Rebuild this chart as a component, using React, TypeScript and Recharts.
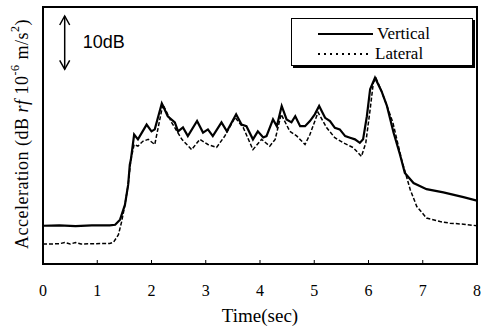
import React from "react";
import {
  LineChart,
  Line,
  XAxis,
  YAxis,
  Legend,
  Label,
  ReferenceArea,
  ReferenceLine,
} from "recharts";

// time (sec) and level (axis units, 1 unit per tick)
const verticalTime = [
  0, 0.3, 0.6, 0.9, 1.23, 1.33, 1.42, 1.51, 1.57, 1.6, 1.62, 1.68, 1.75, 1.91,
  2.0, 2.06, 2.19, 2.3, 2.43, 2.49, 2.58, 2.67, 2.84, 2.95, 3.04, 3.13, 3.29,
  3.39, 3.56, 3.66, 3.75, 3.87, 3.96, 4.06, 4.12, 4.24, 4.31, 4.4, 4.49, 4.58,
  4.65, 4.74, 4.83, 4.92, 5.01, 5.09, 5.2, 5.29, 5.38, 5.47, 5.57, 5.66, 5.75,
  5.84, 5.9, 5.97, 6.03, 6.12, 6.24, 6.34, 6.46, 6.58, 6.67, 6.83, 7.07, 7.38,
  7.75, 8.0,
];
const verticalLevel = [
  1.19, 1.2, 1.18, 1.2, 1.2, 1.22, 1.38, 1.84, 2.47, 3.09, 3.25, 4.03, 3.88,
  4.34, 4.13, 4.19, 5.0, 4.6, 4.41, 4.13, 4.25, 3.98, 4.45, 4.09, 4.19, 3.98,
  4.41, 4.13, 4.66, 4.34, 4.29, 3.88, 4.13, 3.94, 3.98, 4.5, 4.29, 4.92, 4.5,
  4.41, 4.6, 4.29, 4.29, 4.45, 4.66, 4.92, 4.55, 4.45, 4.24, 4.19, 3.98, 3.93,
  3.88, 3.77, 3.88, 4.6, 5.44, 5.8, 5.38, 4.92, 4.1, 3.41, 2.83, 2.52, 2.33,
  2.23, 2.08, 1.97,
];

const lateralTime = [
  0, 0.3, 0.4, 0.5, 0.6, 0.7, 0.9, 1.23, 1.3, 1.39, 1.45, 1.51, 1.57, 1.62,
  1.68, 1.75, 1.84, 1.94, 2.06, 2.21, 2.37, 2.56, 2.74, 2.89, 3.04, 3.2, 3.35,
  3.54, 3.69, 3.87, 4.03, 4.18, 4.28, 4.39, 4.55, 4.68, 4.83, 4.92, 5.07, 5.23,
  5.38, 5.54, 5.72, 5.87, 5.95, 6.03, 6.09, 6.14, 6.24, 6.34, 6.45, 6.61, 6.77,
  6.89, 7.07, 7.32, 7.5, 7.75, 8.0,
];
const lateralLevel = [
  0.62, 0.63, 0.67, 0.62, 0.67, 0.62, 0.63, 0.64, 0.68, 0.91, 1.32, 1.84, 2.47,
  3.25, 3.72, 3.67, 3.82, 3.88, 3.72, 4.97, 4.41, 3.88, 3.56, 3.88, 3.72, 3.63,
  3.98, 4.56, 4.25, 3.56, 3.88, 3.67, 3.88, 4.66, 4.13, 3.98, 3.72, 4.03, 4.72,
  4.24, 3.93, 3.77, 3.62, 3.35, 3.77, 4.81, 5.65, 5.78, 5.38, 4.92, 4.4, 3.25,
  2.31, 1.79, 1.43, 1.32, 1.27, 1.24, 1.19,
];

const xTicks = [0, 1, 2, 3, 4, 5, 6, 7, 8];
const yTicks = [0, 1, 2, 3, 4, 5, 6, 7, 8];

const verticalData = verticalTime.map((t, i) => ({ t, v: verticalLevel[i] }));
const lateralData = lateralTime.map((t, i) => ({ t, v: lateralLevel[i] }));

const serif = "'Liberation Serif', 'Times New Roman', serif";

function YTitle({ viewBox }: any) {
  const cx = viewBox.x + 22;
  const cy = 134;
  return (
    <text
      x={cx}
      y={cy}
      transform={`rotate(-90 ${cx} ${cy})`}
      textAnchor="middle"
      dominantBaseline="central"
      fontFamily={serif}
      fontSize={18}
      letterSpacing={0.5}
      fill="#000"
    >
      Acceleration (dB <tspan fontStyle="italic">rf</tspan> 10
      <tspan fontSize={12} dy={-7}>-6</tspan>
      <tspan dy={7}> m/s</tspan>
      <tspan fontSize={12} dy={-7}>2</tspan>
      <tspan dy={7}>)</tspan>
    </text>
  );
}

function ScaleArrow({ x1, y1, y2 }: any) {
  const x = x1;
  return (
    <g stroke="#000" strokeWidth={1.5} fill="none">
      <line x1={x} y1={y1} x2={x} y2={y2} />
      <polyline points={`${x - 5},${y1 + 9} ${x},${y1} ${x + 5},${y1 + 9}`} />
      <polyline points={`${x - 5},${y2 - 9} ${x},${y2} ${x + 5},${y2 - 9}`} />
      <text
        x={x + 18}
        y={(y1 + y2) / 2 - 1}
        stroke="none"
        fill="#000"
        fontFamily="'Liberation Sans', Arial, sans-serif"
        fontSize={18}
        dominantBaseline="central"
      >
        10dB
      </text>
    </g>
  );
}

function LegendBox() {
  const row = { display: "flex", alignItems: "center", height: 20 };
  return (
    <div
      style={{
        border: "1px solid #000",
        boxShadow: "2px 2px 0 #000",
        background: "#fff",
        padding: "5px 0 2px 26px",
        fontFamily: serif,
        fontSize: 17,
        lineHeight: "20px",
        boxSizing: "border-box",
        width: 182,
        height: 48,
      }}
    >
      <div style={row}>
        <svg width={59} height={10}>
          <line x1={0} y1={5} x2={55} y2={5} stroke="#000" strokeWidth={2} />
        </svg>
        <span>Vertical</span>
      </div>
      <div style={row}>
        <svg width={57} height={10}>
          <line
            x1={0}
            y1={5}
            x2={53}
            y2={5}
            stroke="#000"
            strokeWidth={2}
            strokeDasharray="2 4"
          />
        </svg>
        <span>Lateral</span>
      </div>
    </div>
  );
}

export default function App() {
  return (
    <div style={{ position: "absolute", left: 0, top: 0, background: "#fff" }}>
      <LineChart
        width={481}
        height={331}
        margin={{ top: 7, right: 4, left: 0, bottom: 37 }}
      >
        <XAxis
          dataKey="t"
          type="number"
          domain={[0, 8]}
          ticks={xTicks}
          allowDataOverflow
          height={30}
          tickSize={-4}
          tickMargin={25}
          axisLine={{ stroke: "#000", strokeWidth: 2 }}
          tickLine={{ stroke: "#000", strokeWidth: 1 }}
          tick={{ fill: "#000", fontFamily: serif, fontSize: 16 }}
        >
          <Label
            value="Time(sec)"
            position="insideBottom"
            offset={-28}
            fill="#000"
            fontFamily={serif}
            fontSize={19}
          />
        </XAxis>
        <YAxis
          type="number"
          domain={[0, 8]}
          ticks={yTicks}
          allowDataOverflow
          width={43}
          tickSize={-4}
          tick={false}
          axisLine={{ stroke: "#000", strokeWidth: 2 }}
          tickLine={{ stroke: "#000", strokeWidth: 1 }}
        >
          <Label content={<YTitle />} />
        </YAxis>
        <ReferenceArea
          x1={0}
          x2={8}
          y1={0}
          y2={8}
          fill="none"
          stroke="#000"
          strokeWidth={2}
          ifOverflow="extendDomain"
        />
        <ReferenceLine
          segment={[
            { x: 0.4, y: 7.72 },
            { x: 0.4, y: 6.06 },
          ]}
          shape={<ScaleArrow />}
        />
        <Line
          data={lateralData}
          dataKey="v"
          type="linear"
          stroke="#000"
          strokeWidth={1.5}
          strokeDasharray="4 2"
          dot={false}
          isAnimationActive={false}
        />
        <Line
          data={verticalData}
          dataKey="v"
          type="linear"
          stroke="#000"
          strokeWidth={2.2}
          dot={false}
          isAnimationActive={false}
        />
        <Legend
          layout="horizontal"
          verticalAlign="middle"
          align="center"
          content={<LegendBox />}
          wrapperStyle={{ left: 291, top: 18, width: 182 }}
        />
      </LineChart>
    </div>
  );
}
